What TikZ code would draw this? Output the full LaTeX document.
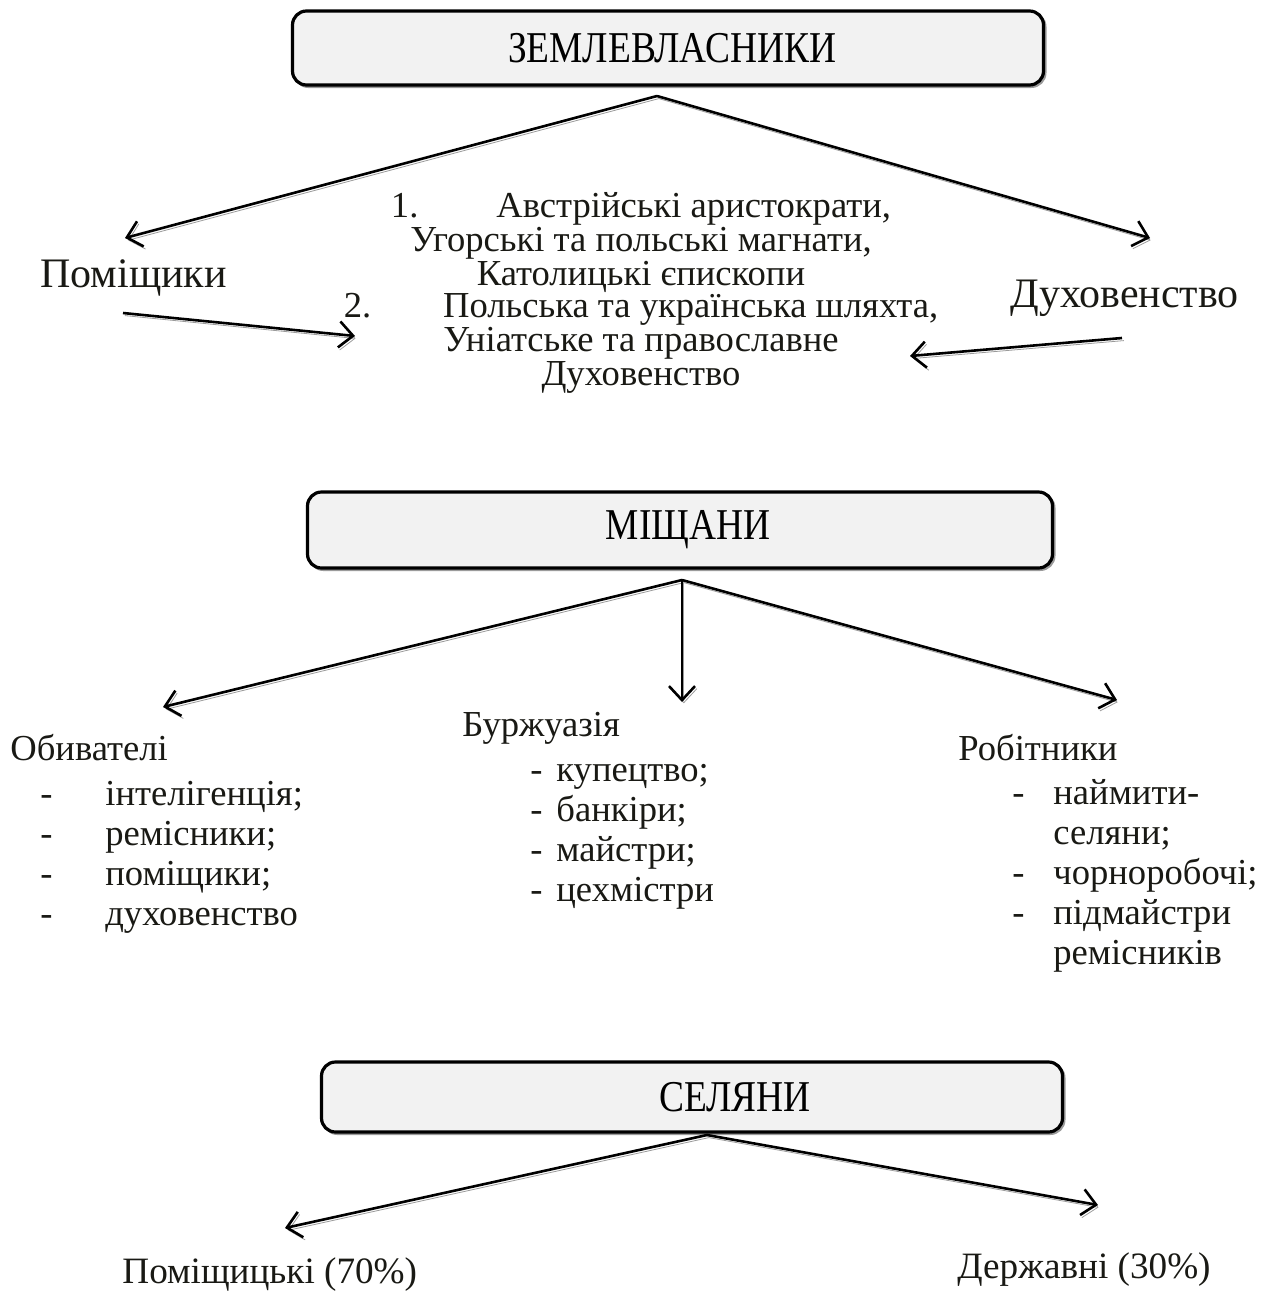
\documentclass[tikz,border=0pt]{standalone}
\usepackage{fontspec}
\setmainfont{Liberation Serif}
\newfontfamily\boxfont[FakeStretch=0.85]{Liberation Serif}
\usetikzlibrary{arrows.meta, positioning}
\definecolor{boxgray}{RGB}{242,242,242}
\definecolor{shadegray}{RGB}{155,155,155}
\definecolor{inkdark}{RGB}{25,25,20}
\tikzset{
  classbox/.style={rectangle, draw=black, fill=boxgray, line width=1.6pt,
    rounded corners=7pt, minimum height=37pt, inner sep=0pt,
    font=\boxfont\fontsize{22}{25}\selectfont,
    preaction={draw=shadegray, line width=1.2pt,
      transform canvas={shift={(0.9pt,-0.9pt)}}}},
  link/.style={line width=1.3pt,
    -{Straight Barb[length=7pt, width=13pt, line width=1.3pt]},
    preaction={draw=shadegray, transform canvas={shift={(0.9pt,-1.3pt)}}}},
  bigtext/.style={font=\fontsize{21}{24}\selectfont, text=inkdark, inner sep=0pt},
  listtext/.style={font=\fontsize{18.3}{20}\selectfont, text=inkdark,
    inner sep=0pt, align=left}
}
\newcommand{\dashitem}[2][24pt]{\makebox[#1][l]{-}#2}

\begin{document}
\begin{tikzpicture}[x=0.5pt, y=-0.5pt]
  \useasboundingbox (0,0) rectangle (1276,1291);

  % Землевласники
  \node[classbox, minimum width=375.5pt] (zeml) at (668,48) {\hspace*{4pt}ЗЕМЛЕВЛАСНИКИ};
  \coordinate (zemlapex) at (657,96);
  \coordinate (pomtip) at (125,238);
  \coordinate (dukhtip) at (1150,238);
  \node[bigtext, anchor=west] (pomishch) at (40,278) {Поміщики};
  \node[bigtext, anchor=west] (dukhov) at (1010,298) {Духовенство};
  \node[listtext, align=center, font=\fontsize{18.3}{15.7}\selectfont] (elite) at (641,293)
    {1.\hspace{39pt}Австрійські аристократи,\\
     Угорські та польські магнати,\\
     Католицькі єпископи\\
     2.\hspace{36pt}Польська та українська шляхта,\\
     Уніатське та православне\\
     Духовенство};
  \coordinate (pomfrom) at (123,313);
  \coordinate (elitel) at (355,336);
  \coordinate (dukhfrom) at (1122,338);
  \coordinate (eliter) at (910,356);
  \draw[link] (zemlapex) -- (pomtip);
  \draw[link] (zemlapex) -- (dukhtip);
  \draw[link] (pomfrom) -- (elitel);
  \draw[link] (dukhfrom) -- (eliter);

  % Міщани
  \node[classbox, minimum width=372.5pt, minimum height=38pt] (mishch) at (680,530) {\hspace*{8pt}МІЩАНИ};
  \coordinate (mishapex) at (682,580);
  \coordinate (obyvtip) at (163,707);
  \coordinate (burztip) at (682,702);
  \coordinate (robtip) at (1117,700);
  \draw[link] (mishapex) -- (obyvtip);
  \draw[link] (mishapex) -- (burztip);
  \draw[link] (mishapex) -- (robtip);

  \node[listtext, anchor=west] (obyv) at (10,748) {Обивателі};
  \node[listtext, anchor=west] (obyvlist) at (40,857)
    {\dashitem[32.5pt]{інтелігенція;}\\
     \dashitem[32.5pt]{ремісники;}\\
     \dashitem[32.5pt]{поміщики;}\\
     \dashitem[32.5pt]{духовенство}};

  \node[listtext, anchor=west] (burzh) at (462,728) {Буржуазія};
  \node[listtext, anchor=west] (burzhlist) at (530,837)
    {\dashitem[13pt]{купецтво;}\\
     \dashitem[13pt]{банкіри;}\\
     \dashitem[13pt]{майстри;}\\
     \dashitem[13pt]{цехмістри}};

  \node[listtext, anchor=west] (robit) at (958,748) {Робітники};
  \node[listtext, anchor=west] (robitlist) at (1012,876)
    {\dashitem[20.5pt]{наймити-}\\
     \hspace*{20.5pt}селяни;\\
     \dashitem[20.5pt]{чорноробочі;}\\
     \dashitem[20.5pt]{підмайстри}\\
     \hspace*{20.5pt}ремісників};

  % Селяни
  \node[classbox, minimum width=370.5pt, minimum height=35pt] (selyany) at (692,1097) {\hspace*{43pt}СЕЛЯНИ};
  \coordinate (selapex) at (707,1135);
  \coordinate (pomstip) at (285,1228);
  \coordinate (derztip) at (1098,1205);
  \draw[link] (selapex) -- (pomstip);
  \draw[link] (selapex) -- (derztip);
  \node[listtext, anchor=west, font=\fontsize{18.6}{20}\selectfont] (pomishchytski) at (122,1275) {Поміщицькі (70\%)};
  \node[listtext, anchor=west, font=\fontsize{18.6}{20}\selectfont] (derzhavni) at (957,1270) {Державні (30\%)};
\end{tikzpicture}
\end{document}
